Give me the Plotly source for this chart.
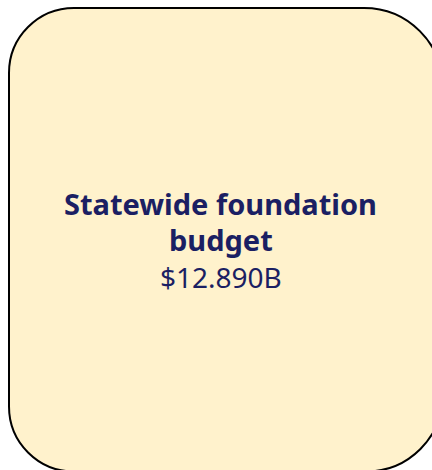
import plotly.graph_objects as go

card_title = ["Statewide foundation", "budget"]
card_value = 12.890
value_label = "$12.890B"

# the figure is drawn a little larger than the 432x470 window so that the card's
# right and bottom edges fall just outside the visible area, as in the reference
W, H = 470, 500
x0, y0, x1, y1 = 9, 8, 443, 471.5
r_tl, r_tr, r_br, r_bl = 65, 79, 77, 65


def corner(r):
    return 0.5523 * r


ktl, ktr, kbr, kbl = corner(r_tl), corner(r_tr), corner(r_br), corner(r_bl)
path = (f"M {x0+r_tl},{y0} L {x1-r_tr},{y0} "
        f"C {x1-r_tr+ktr},{y0} {x1},{y0+r_tr-ktr} {x1},{y0+r_tr} "
        f"L {x1},{y1-r_br} C {x1},{y1-r_br+kbr} {x1-r_br+kbr},{y1} {x1-r_br},{y1} "
        f"L {x0+r_bl},{y1} C {x0+r_bl-kbl},{y1} {x0},{y1-r_bl+kbl} {x0},{y1-r_bl} "
        f"L {x0},{y0+r_tl} C {x0},{y0+r_tl-ktl} {x0+r_tl-ktl},{y0} {x0+r_tl},{y0} Z")

fig = go.Figure()
fig.add_shape(type="path", path=path, xref="x", yref="y",
              fillcolor="#FFF2CC", line=dict(color="#000000", width=2), layer="below")

navy = "#1B1F63"
font_family = "Noto Sans, Open Sans, sans-serif"
cx = 220.5
fig.add_annotation(x=cx, y=203, xref="x", yref="y", showarrow=False,
                   text=f"<b>{card_title[0]}</b>", font=dict(size=29, color=navy, family=font_family))
fig.add_annotation(x=cx, y=239.5, xref="x", yref="y", showarrow=False,
                   text=f"<b>{card_title[1]}</b>", font=dict(size=29, color=navy, family=font_family))
fig.add_annotation(x=cx, y=277, xref="x", yref="y", showarrow=False,
                   text=value_label, font=dict(size=28, color=navy, family=font_family))

fig.update_xaxes(range=[0, W], visible=False, fixedrange=True)
fig.update_yaxes(range=[H, 0], visible=False, fixedrange=True)
fig.update_layout(width=W, height=H, margin=dict(l=0, r=0, t=0, b=0),
                  paper_bgcolor="white", plot_bgcolor="white", showlegend=False)
fig.write_html("out.html",
               config={"displayModeBar": False, "staticPlot": True},
               post_script="document.body.style.margin='0';"
                           "document.documentElement.style.overflow='hidden';"
                           "document.body.style.overflow='hidden';")
